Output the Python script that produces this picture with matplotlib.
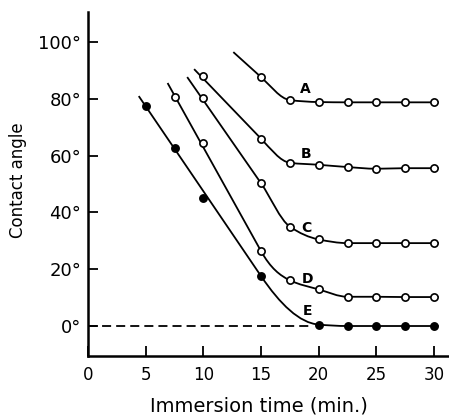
import matplotlib as mpl
import matplotlib.pyplot as plt
from matplotlib.path import Path
from matplotlib.patches import PathPatch
import numpy as np

mpl.rcParams['font.family'] = 'DejaVu Sans'

# Contact angle (degrees) against immersion time (min.) for curves A-E
t_A = [15, 17.5, 20, 22.5, 25, 27.5, 30]
angle_A = [87.7, 79.6, 78.9, 78.8, 78.8, 78.8, 78.8]
t_B = [10, 15, 17.5, 20, 22.5, 25, 27.5, 30]
angle_B = [88.0, 66.0, 57.5, 56.8, 56.0, 55.4, 55.6, 55.6]
t_C = [10, 15, 17.5, 20, 22.5, 25, 27.5, 30]
angle_C = [80.3, 50.3, 35.0, 30.5, 29.2, 29.2, 29.2, 29.2]
t_D = [7.5, 10, 15, 17.5, 20, 22.5, 25, 27.5, 30]
angle_D = [80.7, 64.5, 26.4, 16.1, 12.9, 10.3, 10.3, 10.2, 10.2]
t_E = [5, 7.5, 10, 15, 20, 22.5, 25, 27.5, 30]
angle_E = [77.5, 62.8, 45.2, 17.6, 0.5, 0.0, 0.0, 0.0, 0.0]

# where each hand-drawn curve begins, and the point where its straight part ends
start_A, bend_A = (12.6, 96.5), 0
start_B, bend_B = (9.2, 90.5), 1
start_C, bend_C = (8.6, 87.7), 1
start_D, bend_D = (6.9, 85.6), 2
start_E, bend_E = (4.4, 81.0), 3
line_end = 30.4

curve_names = ['A', 'B', 'C', 'D', 'E']
label_pos = [(18.8, 83.5), (18.9, 60.6), (18.9, 34.4), (19.0, 16.5), (19.0, 5.3)]

x_ticks = [0, 5, 10, 15, 20, 25, 30]
y_ticks = [0, 20, 40, 60, 80, 100]


def drawn_curve(start, t, a, k):
    # ruled straight line from start to point k, then a smooth monotone bend
    x = np.asarray(t[k:], float)
    y = np.asarray(a[k:], float)
    h = np.diff(x)
    d = np.diff(y) / h
    m = np.zeros_like(y)
    m[0] = (y[0] - start[1]) / (x[0] - start[0])
    m[-1] = 0.0
    for i in range(1, len(x) - 1):
        if d[i - 1] * d[i] <= 0:
            m[i] = 0.0
        else:
            w1 = 2 * h[i] + h[i - 1]
            w2 = h[i] + 2 * h[i - 1]
            m[i] = (w1 + w2) / (w1 / d[i - 1] + w2 / d[i])
    verts = [start, (x[0], y[0])]
    codes = [Path.MOVETO, Path.LINETO]
    for i in range(len(x) - 1):
        verts += [(x[i] + h[i] / 3, y[i] + m[i] * h[i] / 3),
                  (x[i + 1] - h[i] / 3, y[i + 1] - m[i + 1] * h[i] / 3),
                  (x[i + 1], y[i + 1])]
        codes += [Path.CURVE4] * 3
    verts.append((line_end, y[-1]))
    codes.append(Path.LINETO)
    return Path(verts, codes)


fig = plt.figure(figsize=(4.49, 4.16), dpi=100)
ax = fig.add_axes([0.196, 0.144, 0.804, 0.827])

series = [(t_A, angle_A, start_A, bend_A, 'white'),
          (t_B, angle_B, start_B, bend_B, 'white'),
          (t_C, angle_C, start_C, bend_C, 'white'),
          (t_D, angle_D, start_D, bend_D, 'white'),
          (t_E, angle_E, start_E, bend_E, 'black')]

for (t, a, s, k, face), name, pos in zip(series, curve_names, label_pos):
    path = drawn_curve(s, t, a, k)
    ax.add_patch(PathPatch(path, facecolor='none', edgecolor='black', lw=1.3,
                           capstyle='butt', zorder=2))
    ax.plot(t, a, linestyle='none', marker='o', markersize=5.2, markerfacecolor=face,
            markeredgecolor='black', markeredgewidth=1.2, zorder=3)
    ax.text(pos[0], pos[1], name, ha='center', va='center', fontsize=10, fontweight='bold')

ax.plot([0, 19.4], [0, 0], color='black', lw=1.3, dashes=(5, 2.8), zorder=1)

ax.set_xlim(0, 31.3)
ax.set_ylim(-10.6, 110.6)
ax.spines['top'].set_visible(False)
ax.spines['right'].set_visible(False)
ax.spines['left'].set_linewidth(1.8)
ax.spines['bottom'].set_linewidth(1.8)

ax.set_xticks(x_ticks)
ax.set_xticklabels([str(v) for v in x_ticks], fontsize=12)
ax.set_yticks(y_ticks)
ax.set_yticklabels(['{}°'.format(v) for v in y_ticks], fontsize=13)
ax.xaxis.set_tick_params(direction='in', length=7, width=1.3, pad=7)
ax.yaxis.set_tick_params(direction='in', length=7, width=1.3, pad=5)

ax.set_xlabel('Immersion time (min.)', fontsize=14)
ax.set_ylabel('Contact angle', fontsize=12)
ax.xaxis.set_label_coords(0.474, -0.118)
ax.yaxis.set_label_coords(-0.17, 0.512)

plt.savefig('out.png', dpi=100)
